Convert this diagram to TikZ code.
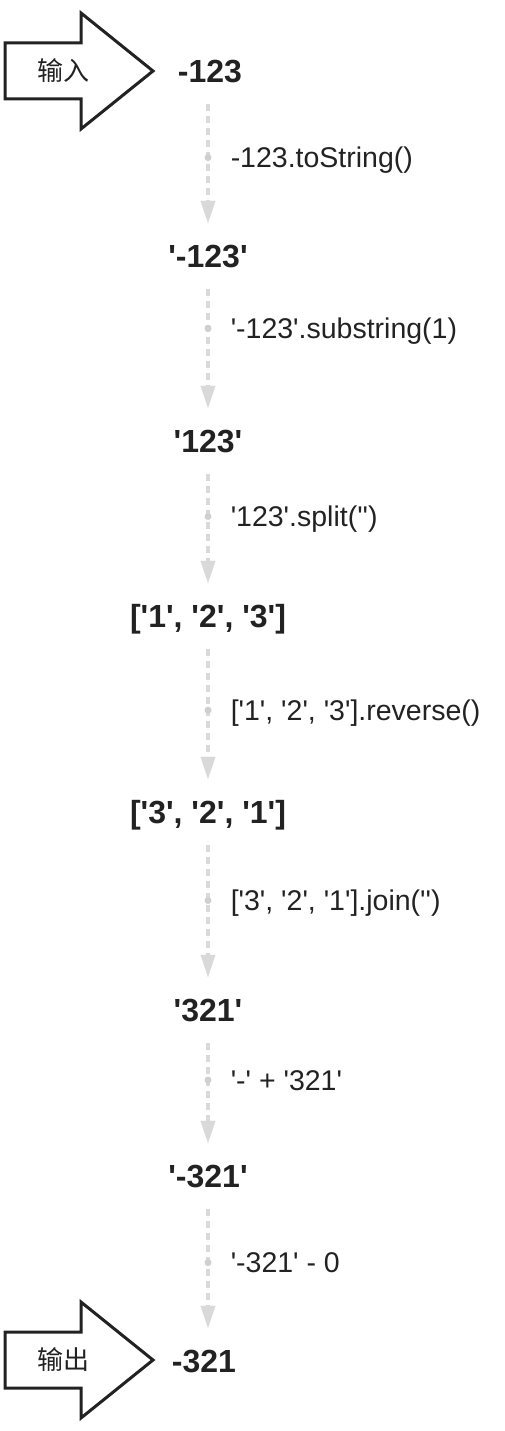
\documentclass[tikz,border=0pt]{standalone}
\usepackage{fontspec}
\setmainfont{Liberation Sans}[Ligatures=TeXOff]
\newfontfamily\cjk{Noto Sans CJK SC}
\usepackage{tikz}
\usetikzlibrary{arrows.meta}

\definecolor{ink}{HTML}{222222}
\definecolor{flowgray}{HTML}{D9D9D9}
\definecolor{dotgray}{HTML}{CFCFCF}

\tikzset{
  value/.style={font=\fontsize{32}{36}\selectfont\bfseries, text=ink, inner sep=0pt,
    minimum height=66pt, text height=23pt, text depth=0pt},
  flow/.style={color=flowgray, line width=3.5pt, dash pattern=on 7pt off 5pt,
    -{Triangle[length=22pt,width=15pt,line width=0.01pt,fill=flowgray,color=flowgray]}},
  knot/.style={circle, fill=dotgray, inner sep=0pt, minimum size=7pt},
  steplabel/.style={anchor=west, xshift=21pt, font=\fontsize{28.5}{32}\selectfont, text=ink,
    inner sep=0pt, text height=20.5pt, text depth=0pt},
  bigarrow/.style={draw=ink, line width=3pt, line join=miter, fill=white},
  io/.style={font=\cjk\fontsize{26}{30}\selectfont, text=ink}
}

\begin{document}
\begin{tikzpicture}[x=1pt, y=-1pt]
        \useasboundingbox (0,0) rectangle (504,1431);

        \draw[bigarrow] (5,43) -- (81,43) -- (81,13) -- (153,71) -- (81,129) -- (81,99) -- (5,99) -- cycle;
        \node[io] (in) at (63,71) {输入};
        \draw[bigarrow] (5,1332) -- (81,1332) -- (81,1302) -- (153,1360) -- (81,1418) -- (81,1388) -- (5,1388) -- cycle;
        \node[io] (out) at (63,1360) {输出};

        \node[value] (A) at (210,71)   {-123};
        \node[value] (B) at (208,256)  {'-123'};
        \node[value] (C) at (208,441)  {'123'};
        \node[value] (D) at (208,616)  {['1', '2', '3']};
        \node[value] (E) at (208,812)  {['3', '2', '1']};
        \node[value] (F) at (208,1010) {'321'};
        \node[value] (G) at (208,1176) {'-321'};
        \node[value] (H) at (204,1361) {-321};

        \path [flow](A.south -| B) edge node[knot, pos=0.45] {} node[steplabel, pos=0.45] {-123.toString()} (B);
        \path [flow](B) edge node[knot, pos=0.33] {} node[steplabel, pos=0.33] {'-123'.substring(1)} (C);
        \path [flow](C) edge node[knot, pos=0.39] {} node[steplabel, pos=0.39] {'123'.split('')} (D);
        \path [flow](D) edge node[knot, pos=0.47] {} node[steplabel, pos=0.47] {['1', '2', '3'].reverse()} (E);
        \path [flow](E) edge node[knot, pos=0.42] {} node[steplabel, pos=0.42] {['3', '2', '1'].join('')} (F);
        \path [flow](F) edge node[knot, pos=0.37] {} node[steplabel, pos=0.37] {'-' + '321'} (G);
        \path [flow](G) edge node[knot, pos=0.45] {} node[steplabel, pos=0.45] {'-321' - 0} (H.north -| G);
    \end{tikzpicture}
\end{document}
